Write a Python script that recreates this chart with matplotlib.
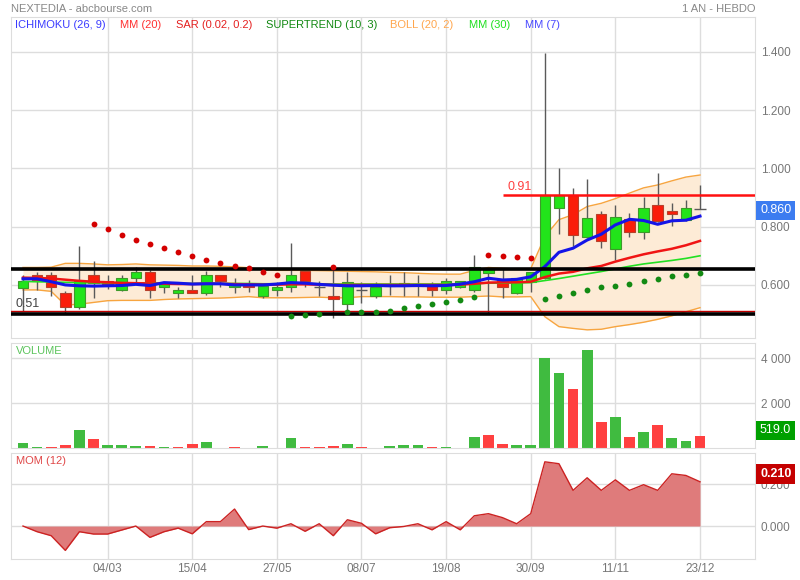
import numpy as np
import matplotlib
matplotlib.use('Agg')
import matplotlib.pyplot as plt
import matplotlib.transforms as mtransforms

plt.rcParams['font.family'] = ['Liberation Sans', 'DejaVu Sans']

# weekly candles, first one is the week of 21/01
opens = [0.590, 0.633, 0.633, 0.571, 0.524, 0.633, 0.613, 0.582, 0.623, 0.643,
         0.592, 0.571, 0.582, 0.571, 0.633, 0.592, 0.600, 0.562, 0.581, 0.592,
         0.649, 0.593, 0.562, 0.534, 0.582, 0.561, 0.597, 0.606, 0.603, 0.602,
         0.582, 0.592, 0.582, 0.642, 0.619, 0.571, 0.611, 0.623, 0.863, 0.908,
         0.764, 0.844, 0.722, 0.825, 0.781, 0.874, 0.854, 0.823, 0.860]
highs = [0.634, 0.646, 0.646, 0.580, 0.734, 0.682, 0.634, 0.634, 0.661, 0.652,
         0.611, 0.592, 0.634, 0.648, 0.633, 0.623, 0.617, 0.605, 0.611, 0.743,
         0.649, 0.614, 0.657, 0.646, 0.611, 0.611, 0.634, 0.643, 0.634, 0.611,
         0.623, 0.615, 0.703, 0.656, 0.659, 0.623, 0.643, 1.395, 1.002, 0.934,
         0.964, 0.854, 0.874, 0.846, 0.903, 0.983, 0.880, 0.892, 0.943]
lows = [0.510, 0.583, 0.563, 0.503, 0.517, 0.554, 0.586, 0.580, 0.611, 0.554,
        0.574, 0.554, 0.571, 0.566, 0.594, 0.571, 0.577, 0.555, 0.562, 0.575,
        0.594, 0.563, 0.487, 0.508, 0.537, 0.555, 0.566, 0.562, 0.562, 0.562,
        0.570, 0.590, 0.577, 0.505, 0.554, 0.569, 0.575, 0.620, 0.775, 0.734,
        0.760, 0.726, 0.686, 0.766, 0.757, 0.817, 0.803, 0.820, 0.860]
closes = [0.614, 0.613, 0.592, 0.524, 0.613, 0.606, 0.602, 0.623, 0.643, 0.582,
          0.602, 0.582, 0.571, 0.633, 0.613, 0.602, 0.592, 0.598, 0.592, 0.633,
          0.613, 0.593, 0.551, 0.611, 0.582, 0.592, 0.600, 0.600, 0.598, 0.582,
          0.613, 0.613, 0.661, 0.654, 0.592, 0.623, 0.643, 0.908, 0.908, 0.770,
          0.831, 0.752, 0.832, 0.781, 0.863, 0.821, 0.843, 0.863, 0.860]

mm7 = [0.621, 0.621, 0.611, 0.600, 0.597, 0.596, 0.597, 0.598, 0.602, 0.598,
       0.608, 0.606, 0.603, 0.604, 0.604, 0.600, 0.600, 0.600, 0.603, 0.608,
       0.606, 0.602, 0.599, 0.597, 0.597, 0.598, 0.597, 0.597, 0.598, 0.597,
       0.598, 0.603, 0.611, 0.623, 0.617, 0.619, 0.628, 0.663, 0.712, 0.726,
       0.754, 0.774, 0.806, 0.825, 0.821, 0.808, 0.820, 0.822, 0.836]
mm20 = [0.625, 0.624, 0.622, 0.618, 0.614, 0.611, 0.609, 0.607, 0.606, 0.605,
        0.604, 0.603, 0.603, 0.604, 0.604, 0.603, 0.602, 0.601, 0.601, 0.602,
        0.602, 0.601, 0.600, 0.600, 0.600, 0.600, 0.600, 0.600, 0.600, 0.600,
        0.600, 0.601, 0.604, 0.608, 0.609, 0.609, 0.611, 0.627, 0.639, 0.645,
        0.657, 0.665, 0.680, 0.693, 0.705, 0.715, 0.724, 0.736, 0.751]
mm30 = [0.612, 0.611, 0.610, 0.609, 0.608, 0.607, 0.607, 0.606, 0.606, 0.606,
        0.606, 0.605, 0.605, 0.605, 0.605, 0.605, 0.605, 0.604, 0.604, 0.604,
        0.604, 0.604, 0.603, 0.603, 0.603, 0.603, 0.603, 0.603, 0.603, 0.603,
        0.603, 0.604, 0.605, 0.606, 0.606, 0.607, 0.608, 0.615, 0.622, 0.630,
        0.638, 0.646, 0.655, 0.664, 0.672, 0.678, 0.684, 0.691, 0.700]
boll_up = [0.660, 0.660, 0.661, 0.674, 0.674, 0.672, 0.669, 0.670, 0.672, 0.669,
           0.668, 0.667, 0.665, 0.665, 0.664, 0.662, 0.659, 0.652, 0.650, 0.650,
           0.650, 0.649, 0.648, 0.647, 0.646, 0.645, 0.643, 0.642, 0.640, 0.638,
           0.637, 0.637, 0.650, 0.660, 0.657, 0.654, 0.656, 0.766, 0.824, 0.841,
           0.869, 0.880, 0.896, 0.915, 0.933, 0.943, 0.957, 0.970, 0.977]
boll_low = [0.583, 0.583, 0.578, 0.531, 0.534, 0.540, 0.546, 0.547, 0.547, 0.547,
            0.550, 0.552, 0.553, 0.554, 0.555, 0.557, 0.560, 0.556, 0.556, 0.556,
            0.557, 0.558, 0.556, 0.556, 0.560, 0.560, 0.560, 0.559, 0.559, 0.558,
            0.558, 0.558, 0.560, 0.562, 0.559, 0.559, 0.560, 0.491, 0.457, 0.451,
            0.446, 0.448, 0.457, 0.464, 0.472, 0.482, 0.494, 0.508, 0.522]

sar_idx = [5, 6, 7, 8, 9, 10, 11, 12, 13, 14, 15, 16, 17, 18, 22, 33, 34, 35, 36]
sar_val = [0.810, 0.793, 0.772, 0.754, 0.741, 0.727, 0.714, 0.700, 0.687, 0.675,
           0.666, 0.659, 0.645, 0.634, 0.661, 0.703, 0.700, 0.697, 0.694]
st_idx = [19, 20, 21, 23, 24, 25, 26, 27, 28, 29, 30, 31, 32,
          37, 38, 39, 40, 41, 42, 43, 44, 45, 46, 47, 48]
st_val = [0.495, 0.497, 0.502, 0.506, 0.506, 0.506, 0.512, 0.521, 0.528, 0.536,
          0.542, 0.549, 0.560, 0.553, 0.563, 0.573, 0.582, 0.592, 0.598, 0.603,
          0.615, 0.622, 0.629, 0.635, 0.642]

volume = [222, 60, 45, 133, 800, 400, 120, 133, 90, 90,
          45, 45, 160, 270, 20, 40, 20, 70, 20, 450,
          45, 45, 90, 180, 45, 15, 90, 130, 130, 30,
          45, 10, 475, 580, 160, 130, 120, 4000, 3320, 2610,
          4355, 1155, 1375, 475, 710, 1020, 430, 295, 519]
vol_up = [1, 1, 0, 0, 1, 0, 1, 1, 1, 0,
          1, 0, 0, 1, 0, 0, 0, 1, 0, 1,
          0, 0, 0, 1, 0, 1, 1, 1, 1, 0,
          1, 1, 1, 0, 0, 1, 1, 1, 1, 0,
          1, 0, 1, 0, 1, 0, 1, 1, 0]

mom = [0.000, -0.027, -0.046, -0.116, -0.027, -0.038, -0.038, -0.019, 0.000, -0.054,
       -0.027, -0.010, -0.037, 0.021, 0.021, 0.081, -0.017, 0.000, -0.010, 0.011,
       -0.025, 0.011, -0.046, 0.030, 0.013, -0.037, -0.008, -0.002, 0.011, -0.018,
       0.021, -0.018, 0.049, 0.059, 0.040, 0.011, 0.059, 0.306, 0.297, 0.170,
       0.230, 0.170, 0.220, 0.170, 0.197, 0.170, 0.249, 0.241, 0.211]

tick_idx = [6, 12, 18, 24, 30, 36, 42, 48]
date_labels = ['04/03', '15/04', '27/05', '08/07', '19/08', '30/09', '11/11', '23/12']

support_levels = [0.655, 0.50]
low_mark, high_mark, high_mark_start = 0.51, 0.91, 34

GRID = '#dddddd'
LBL = '#777777'
FS = 8

fig = plt.figure(figsize=(8, 5.8), dpi=100)


def panel(top, bottom):
    return [11 / 800, 1 - bottom / 580, 744 / 800, (bottom - top) / 580]


ax = fig.add_axes(panel(17, 338))
axv = fig.add_axes(panel(343, 448), sharex=ax)
axm = fig.add_axes(panel(453, 559), sharex=ax)

for a in (ax, axv, axm):
    for s in a.spines.values():
        s.set_color(GRID)
    a.set_xticks(tick_idx)
    a.grid(True, color=GRID, lw=1)
    a.set_axisbelow(True)
    a.yaxis.tick_right()
    a.tick_params(length=0, labelsize=FS + 0.5, labelcolor=LBL)
    a.tick_params(axis='y', pad=4)
    a.tick_params(axis='x', labelbottom=False)
ax.set_xlim(-0.85, 51.9)

idx = np.arange(len(opens))
o, h, l, c = map(np.array, (opens, highs, lows, closes))

# --- main price panel
ax.set_ylim(0.418, 1.519)
ax.set_yticks([0.6, 0.8, 1.0, 1.2, 1.4])
ax.set_yticklabels(['0.600', '0.800', '1.000', '1.200', '1.400'])

ax.fill_between(idx, boll_low, boll_up, color='#fdebd6', lw=0, zorder=1)
ax.plot(idx, boll_up, color='#f7a540', lw=1, zorder=1.5)
ax.plot(idx, boll_low, color='#f7a540', lw=1, zorder=1.5)

ax.vlines(idx, l, h, color='#5a5a5a', lw=1, zorder=2)
body = np.abs(c - o)
bottom = np.minimum(o, c)
up = (c > o) & (body > 0.002)
down = (c < o) & (body > 0.002)
doji = body <= 0.002
ax.bar(idx[up], body[up], bottom=bottom[up], width=0.74,
       color='#22e41a', edgecolor='#3d9a2a', lw=0.8, zorder=3)
ax.bar(idx[down], body[down], bottom=bottom[down], width=0.74,
       color='#fa1d0a', edgecolor='#b8402a', lw=0.8, zorder=3)
ax.hlines(c[doji], idx[doji] - 0.4, idx[doji] + 0.4, color='#5a5a5a', lw=1, zorder=3)

ax.plot(idx, mm30, color='#22e022', lw=1.2, zorder=4)
ax.plot(idx, mm20, color='#f01414', lw=1.8, zorder=4)
ax.plot(idx, mm7, color='#1414e8', lw=2.2, zorder=4.5)

for lvl in support_levels:
    ax.axhline(lvl, color='black', lw=2.6, zorder=6)
ax.axhline(low_mark, color='#c00000', lw=1, zorder=5)
ax.hlines(high_mark, high_mark_start, 60, color='#ff1010', lw=1.8, zorder=5)
ax.text(-0.55, low_mark + 0.004, '0.51', color='#444444', fontsize=9, va='bottom', zorder=7)
ax.text(high_mark_start + 0.35, high_mark + 0.005, '0.91', color='#ff4040', fontsize=9,
        va='bottom', zorder=7)

ax.plot(sar_idx, sar_val, 'o', color='#d40000', ms=4.2, mec='none', zorder=7)
ax.plot(st_idx, st_val, 'o', color='#138a13', ms=4.2, mec='none', zorder=7)

blend = mtransforms.blended_transform_factory(ax.transAxes, ax.transData)
ax.text(1 + 5 / 744, closes[-1] - 0.004, '0.860', transform=blend, color='white', fontsize=9,
        va='center', zorder=10, clip_on=False,
        bbox=dict(boxstyle='square,pad=0.3', fc='#3c7cf0', ec='none'))

# --- volume panel
axv.set_ylim(0, 4667)
axv.set_yticks([2000, 4000])
axv.set_yticklabels(['2 000', '4 000'])
axv.bar(idx, volume, width=0.76, zorder=2,
        color=['#40bb40' if u else '#ff4040' for u in vol_up])
axv.text(5 / 744, 0.97, 'VOLUME', transform=axv.transAxes, color='#5cc45c',
         fontsize=FS, va='top')
bv = mtransforms.blended_transform_factory(axv.transAxes, axv.transData)
axv.text(1 + 5 / 744, volume[-1], '519.0', transform=bv, color='white', fontsize=9,
         va='bottom', zorder=10, clip_on=False,
         bbox=dict(boxstyle='square,pad=0.3', fc='#00a000', ec='none'))

# --- momentum panel
axm.set_ylim(-0.157, 0.348)
axm.set_yticks([0.0, 0.2])
axm.set_yticklabels(['0.000', '0.200'])
axm.fill_between(idx, mom, 0, color='#df7b7b', lw=0, zorder=2)
axm.plot(idx, mom, color='#cc2222', lw=1, zorder=3)
axm.text(5 / 744, 0.97, 'MOM (12)', transform=axm.transAxes, color='#e04848',
         fontsize=FS, va='top')
bm = mtransforms.blended_transform_factory(axm.transAxes, axm.transData)
axm.text(1 + 5 / 744, mom[-1] + 0.008, '0.210', transform=bm, color='white', fontsize=9,
         fontweight='bold', va='bottom', zorder=10, clip_on=False,
         bbox=dict(boxstyle='square,pad=0.3', fc='#c40000', ec='none'))
axm.tick_params(axis='x', labelbottom=True, pad=3)
axm.set_xticklabels(date_labels)

# --- header and legend
fig.text(11 / 800, 1 - 9 / 580, 'NEXTEDIA - abcbourse.com', color='#888888',
         fontsize=FS, va='center')
fig.text(755 / 800, 1 - 9 / 580, '1 AN - HEBDO', color='#888888', fontsize=FS,
         va='center', ha='right')
legend = [('ICHIMOKU (26, 9)', '#3b3bff', 15), ('MM (20)', '#ff3030', 120),
          ('SAR (0.02, 0.2)', '#e52020', 176), ('SUPERTREND (10, 3)', '#118811', 266),
          ('BOLL (20, 2)', '#ffa64d', 390), ('MM (30)', '#1ee01e', 469),
          ('MM (7)', '#4848ff', 525)]
for txt, col, px in legend:
    fig.text(px / 800, 1 - 25 / 580, txt, color=col, fontsize=FS, va='center')

fig.savefig('out.png', dpi=100)
